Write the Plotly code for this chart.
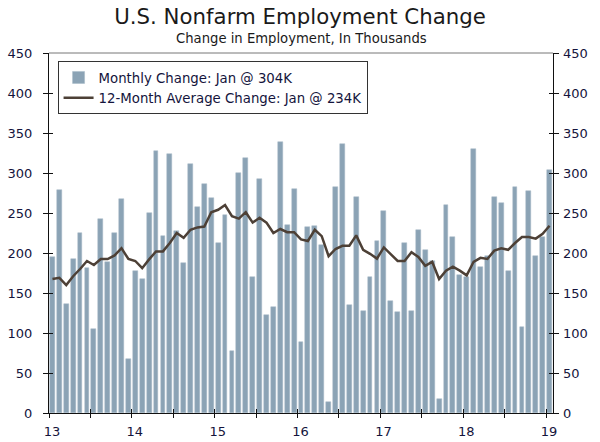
import pandas as pd
import plotly.graph_objects as go

# Monthly nonfarm payroll change, Jan 2013 - Jan 2019 (thousands)
months = pd.date_range("2013-01-01", "2019-01-01", freq="MS")

monthly_change = [195, 279, 136, 192, 225, 181, 105, 242, 189, 225, 267, 67,
                  177, 168, 250, 327, 221, 324, 227, 187, 311, 258, 286, 269,
                  213, 248, 77, 300, 319, 170, 292, 122, 132, 339, 235, 280,
                  89, 232, 234, 210, 14, 282, 336, 135, 270, 128, 170, 215,
                  252, 140, 126, 213, 128, 229, 204, 190, 17, 260, 220, 173,
                  170, 330, 182, 196, 270, 262, 178, 282, 108, 277, 196, 220,
                  304]

avg_12m = [167.5, 169, 160, 171, 180, 190, 185, 192.5, 192.5, 197, 206, 192.5,
           190, 181, 192, 202, 202, 212.5, 225, 219, 229, 232, 233, 251,
           254, 260, 246, 243, 251, 238, 244, 238, 225, 230, 226, 226,
           217, 215, 229, 221, 196, 205, 209, 209, 222, 204, 199, 193,
           207, 199, 190, 190, 201, 195, 184, 189, 167.5, 178, 183, 178,
           172, 189, 194, 192.5, 203, 206, 204, 212.5, 220, 220, 218, 224,
           234]

year_labels = ["13", "14", "15", "16", "17", "18", "19"]
y_ticks = [0, 50, 100, 150, 200, 250, 300, 350, 400, 450]

x = list(range(len(months)))
year_pos = [i for i, m in enumerate(months) if m.month == 1]

FONT = "DejaVu Sans"
TXT = "#14143c"
AX = "#111111"

fig = go.Figure()
fig.add_trace(go.Bar(x=x, y=monthly_change, width=0.7,
                     marker=dict(color="#8ba3b5", line=dict(color="#a6b9c7", width=0.5)),
                     name="Monthly Change: Jan @ 304K"))
# line on the overlay axes so those axes get drawn (inside ticks / right labels)
fig.add_trace(go.Scatter(x=x, y=avg_12m, mode="lines", xaxis="x2", yaxis="y2",
                         line=dict(color="#4d4036", width=2.5),
                         name="12-Month Average Change: Jan @ 234K"))

xr = [-0.5, len(months) - 0.5]
yr = [0, 450]

fig.update_layout(
    width=600, height=442,
    margin=dict(l=49, r=47, t=53, b=29),
    paper_bgcolor="white", plot_bgcolor="white",
    font=dict(family=FONT, size=13, color=TXT),
    title=dict(text="U.S. Nonfarm Employment Change",
               x=0.5, xanchor="center", y=1 - 17 / 442, yanchor="middle",
               font=dict(family=FONT, size=21.3, color="#1a1a1a")),
    showlegend=True,
    legend=dict(x=0.017, y=0.977, xanchor="left", yanchor="top",
                bgcolor="white", bordercolor="#333333", borderwidth=1,
                font=dict(family=FONT, size=13.3, color=TXT),
                tracegroupgap=0, itemwidth=30),
    bargap=0,
    xaxis=dict(range=xr, showgrid=False, zeroline=False, automargin=False,
               showline=True, linecolor=AX, linewidth=1,
               tickmode="array", tickvals=[p - 0.5 for p in year_pos], ticktext=year_labels,
               ticks="outside", ticklen=4, tickcolor=AX,
               ticklabelshift=3, ticklabelstandoff=2,
               minor=dict(tick0=-0.5, dtick=6, ticks="outside", ticklen=4, tickcolor=AX)),
    xaxis2=dict(range=xr, overlaying="x", anchor="y2", showgrid=False, zeroline=False,
                automargin=False, showline=False, tick0=-0.5, dtick=6,
                ticks="inside", ticklen=4, tickcolor=AX, showticklabels=False),
    yaxis=dict(range=yr, tickvals=y_ticks, showgrid=False, zeroline=False, automargin=False,
               showline=True, linecolor=AX, linewidth=1, mirror="ticks",
               ticks="outside", ticklen=5, tickcolor=AX, ticklabelstandoff=8),
    yaxis2=dict(range=yr, tickvals=y_ticks, overlaying="y", side="right", anchor="x2",
                showgrid=False, zeroline=False, automargin=False, showline=False,
                mirror="ticks", ticks="inside", ticklen=4, tickcolor=AX,
                ticklabelstandoff=9),
    shapes=[dict(type="line", xref="paper", yref="paper", x0=0, x1=1, y0=1, y1=1,
                 line=dict(color="#777777", width=1))],
    annotations=[dict(text="Change in Employment, In Thousands", xref="paper", yref="paper",
                      x=0.5, y=1 + 15 / 360.6, xanchor="center", yanchor="middle",
                      showarrow=False, font=dict(family=FONT, size=13.2, color="#1a1a1a"))],
)

# drop the browser's default 8px body margin so the figure sits at the window corner
fig.write_html("out.html", config={"displayModeBar": False},
               post_script="document.body.style.margin='0';")
